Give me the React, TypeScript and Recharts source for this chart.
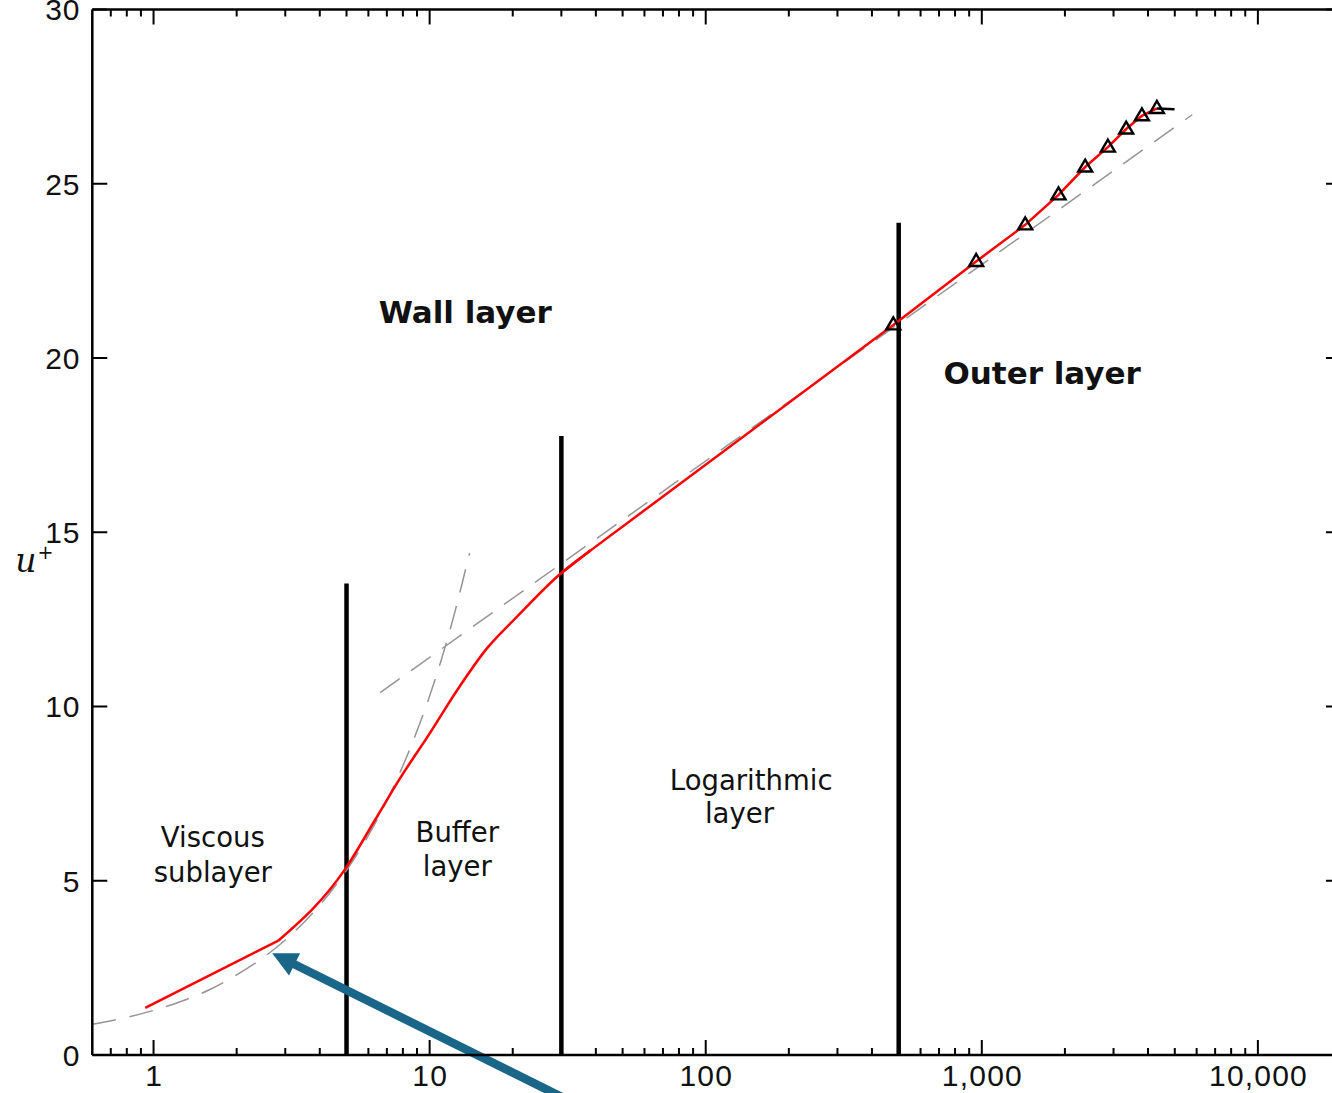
import React from 'react';
import { ComposedChart, Line, XAxis, YAxis, ReferenceLine, ReferenceDot } from 'recharts';

// Mean velocity profile u+ against wall distance y+
const profileX = [0.933, 2.83, 4.95, 6.35, 7.83, 10.05, 12.56, 16.1, 20.7, 29.7, 38.3, 478, 954, 1436, 1896, 2368, 2862, 3334, 3800, 4307];
const profileU = [1.35, 3.28, 5.34, 6.75, 7.95, 9.25, 10.46, 11.66, 12.57, 13.8, 14.48, 20.95, 22.77, 23.82, 24.68, 25.48, 26.05, 26.57, 26.95, 27.16];

// Measured points in the outer region
const markerX = [478, 954, 1436, 1896, 2368, 2862, 3334, 3800, 4307];
const markerU = [20.95, 22.77, 23.82, 24.68, 25.48, 26.05, 26.57, 26.95, 27.16];

// Short trailing segment after the last measurement
const tailX = [4307, 4990];
const tailU = [27.16, 27.14];

// Viscous sublayer reference curve
const viscousX = [0.6, 0.8, 1.0, 1.3, 1.6, 2.0, 2.5, 3.0, 4.0, 5.0, 6.0, 7.0, 8.5, 10, 12, 13.95];
const viscousU = [0.88, 1.08, 1.28, 1.58, 1.88, 2.3, 2.8, 3.3, 4.3, 5.3, 6.3, 7.3, 8.8, 10.3, 12.35, 14.4];

// Log-law reference line
const logLawX = [6.62, 5782];
const logLawU = [10.4, 26.98];

// Region boundaries (y+ position, top of line)
const boundaryX = [5, 30, 500];
const boundaryTop = [13.53, 17.76, 23.88];

// Axis ticks
const xMajor = [1, 10, 100, 1000, 10000];
const xTicks = [
  0.7, 0.8, 0.9, 1, 2, 3, 4, 5, 6, 7, 8, 9, 10, 20, 30, 40, 50, 60, 70, 80, 90, 100,
  200, 300, 400, 500, 600, 700, 800, 900, 1000, 2000, 3000, 4000, 5000, 6000, 7000, 8000, 9000, 10000,
];
const yTicks = [0, 5, 10, 15, 20, 25, 30];

// Region annotations: [text, y+, u+, bold]
const regionLabels: [string, number, number, boolean][] = [
  ['Viscous', 1.639, 6.24, false],
  ['sublayer', 1.639, 5.26, false],
  ['Buffer', 12.59, 6.41, false],
  ['layer', 12.59, 5.43, false],
  ['Logarithmic', 146.1, 7.9, false],
  ['layer', 132.5, 6.95, false],
  ['Wall layer', 13.46, 21.32, true],
  ['Outer layer', 1654, 19.57, true],
];

// Pointer arrow: tail (off the plot) to tip
const arrowX = [41.4, 2.69];
const arrowU = [-1.75, 2.92];

const pts = (xs: number[], us: number[]) => xs.map((x, i) => ({ x, u: us[i] }));

// Profile pieces: straight near the wall, a smooth buffer bend, straight log region onwards
const profileWall = pts(profileX.slice(0, 2), profileU.slice(0, 2));
const profileBuffer = pts(profileX.slice(1, 11), profileU.slice(1, 11));
const profileOuter = pts(profileX.slice(9), profileU.slice(9));

const TICK_FONT = '"Liberation Sans", Arial, sans-serif';
const LABEL_FONT = '"DejaVu Sans", Verdana, sans-serif';
const MAJOR = 15;
const MINOR = 7;

const fmt = (v: number) => v.toLocaleString('en-US');

const BottomTick = (props: any) => {
  const { x, y, payload } = props;
  const v = payload.value;
  const major = xMajor.includes(v);
  return (
    <g>
      <line x1={x} x2={x} y1={y} y2={y - (major ? MAJOR : MINOR)} stroke="#000" strokeWidth={2} />
      {major && (
        <text x={x + 0.6} y={y + 31} textAnchor="middle" fontFamily={TICK_FONT} fontSize={30} letterSpacing={1.2} fill="#111">
          {fmt(v)}
        </text>
      )}
    </g>
  );
};

const TopTick = (props: any) => {
  const { x, y, payload } = props;
  const major = xMajor.includes(payload.value);
  return <line x1={x} x2={x} y1={y} y2={y + (major ? MAJOR : MINOR)} stroke="#000" strokeWidth={2} />;
};

const LeftTick = (props: any) => {
  const { x, y, payload } = props;
  return (
    <g>
      <line x1={x} x2={x + MAJOR} y1={y} y2={y} stroke="#000" strokeWidth={2} />
      <text x={x - 12} y={y} dy="0.36em" textAnchor="end" fontFamily={TICK_FONT} fontSize={30} letterSpacing={0.8} fill="#111">
        {payload.value}
      </text>
    </g>
  );
};

const RightTick = (props: any) => {
  const { x, y } = props;
  return <line x1={x} x2={x - MAJOR} y1={y} y2={y} stroke="#000" strokeWidth={2} />;
};

const Triangle = (props: any) => {
  const { cx, cy, index } = props;
  if (cx == null || cy == null) return <g key={index} />;
  return (
    <polygon
      key={index}
      points={`${cx},${cy - 7.5} ${cx - 7},${cy + 4.5} ${cx + 7},${cy + 4.5}`}
      fill="none"
      stroke="#000"
      strokeWidth={2.4}
    />
  );
};

const Arrow = (props: any) => {
  const { x1, y1, x2, y2 } = props;
  const dx = x2 - x1;
  const dy = y2 - y1;
  const len = Math.sqrt(dx * dx + dy * dy) || 1;
  const ux = dx / len;
  const uy = dy / len;
  const headLen = 25;
  const halfW = 12.5;
  const bx = x2 - ux * headLen;
  const by = y2 - uy * headLen;
  const nx = -uy;
  const ny = ux;
  return (
    <g>
      <line x1={x1} y1={y1} x2={bx + ux * 2} y2={by + uy * 2} stroke="#1a6689" strokeWidth={8.5} />
      <polygon
        points={`${x2},${y2} ${bx + nx * halfW},${by + ny * halfW} ${bx - nx * halfW},${by - ny * halfW}`}
        fill="#1a6689"
      />
    </g>
  );
};

// y-axis title: italic u with a raised plus sign
const AxisLabel = (props: any) => {
  const { cx, cy } = props;
  return (
    <text x={cx - 77} y={cy + 12} fontFamily='"DejaVu Serif", "Liberation Serif", serif' fill="#111">
      <tspan fontStyle="italic" fontSize={33}>u</tspan>
      <tspan dx={1} dy={-13} fontFamily='"DejaVu Sans", sans-serif' fontSize={19}>+</tspan>
    </text>
  );
};

const axisLine = { stroke: '#000', strokeWidth: 2.5 };

export default function App() {
  return (
    <div style={{ position: 'fixed', left: 0, top: 0, width: 1332, height: 1093, overflow: 'hidden', background: '#fff' }}>
      <div style={{ position: 'absolute', left: 0, top: -40 }}>
        <ComposedChart width={1400} height={1180} margin={{ top: 48.5, right: 58, bottom: 84, left: 91.3 }}>
          <XAxis
            xAxisId="b"
            dataKey="x"
            type="number"
            scale="log"
            domain={[0.6, 20000]}
            allowDataOverflow
            ticks={xTicks}
            interval={0}
            height={1}
            tickSize={0}
            tickMargin={0}
            tickLine={false}
            axisLine={axisLine}
            tick={<BottomTick />}
          />
          <XAxis
            xAxisId="t"
            orientation="top"
            dataKey="x"
            type="number"
            scale="log"
            domain={[0.6, 20000]}
            allowDataOverflow
            ticks={xTicks}
            interval={0}
            height={1}
            tickSize={0}
            tickMargin={0}
            tickLine={false}
            axisLine={axisLine}
            tick={<TopTick />}
          />
          <YAxis
            yAxisId="l"
            type="number"
            domain={[0, 30]}
            allowDataOverflow
            ticks={yTicks}
            interval={0}
            width={1}
            tickSize={0}
            tickMargin={0}
            tickLine={false}
            axisLine={axisLine}
            tick={<LeftTick />}
          />
          <YAxis
            yAxisId="r"
            orientation="right"
            type="number"
            domain={[0, 30]}
            allowDataOverflow
            ticks={yTicks}
            interval={0}
            width={1}
            tickSize={0}
            tickMargin={0}
            tickLine={false}
            axisLine={axisLine}
            tick={<RightTick />}
          />

          {boundaryX.map((bx, i) => (
            <ReferenceLine
              key={`b${i}`}
              xAxisId="b"
              yAxisId="l"
              segment={[{ x: bx, y: 0 }, { x: bx, y: boundaryTop[i] }]}
              stroke="#000"
              strokeWidth={4.5}
              ifOverflow="visible"
            />
          ))}

          <Line xAxisId="b" yAxisId="l" data={pts(viscousX, viscousU)} dataKey="u" type="monotone" stroke="#959595" strokeWidth={1.5} strokeDasharray="24 14" dot={false} isAnimationActive={false} />
          <Line xAxisId="b" yAxisId="l" data={pts(logLawX, logLawU)} dataKey="u" type="linear" stroke="#959595" strokeWidth={1.5} strokeDasharray="24 14" dot={false} isAnimationActive={false} />
          <Line xAxisId="b" yAxisId="l" data={profileWall} dataKey="u" type="linear" stroke="#ff0000" strokeWidth={2.5} dot={false} isAnimationActive={false} />
          <Line xAxisId="b" yAxisId="l" data={profileBuffer} dataKey="u" type="monotone" stroke="#ff0000" strokeWidth={2.5} dot={false} isAnimationActive={false} />
          <Line xAxisId="b" yAxisId="l" data={profileOuter} dataKey="u" type="linear" stroke="#ff0000" strokeWidth={2.5} dot={false} isAnimationActive={false} />
          <Line xAxisId="b" yAxisId="l" data={pts(tailX, tailU)} dataKey="u" type="linear" stroke="#000" strokeWidth={2.5} dot={false} isAnimationActive={false} />
          <Line xAxisId="b" yAxisId="l" data={pts(markerX, markerU)} dataKey="u" stroke="none" dot={<Triangle />} activeDot={false} isAnimationActive={false} />

          {regionLabels.map(([text, lx, lu, bold], i) => (
            <ReferenceDot
              key={`t${i}`}
              xAxisId="b"
              yAxisId="l"
              x={lx}
              y={lu}
              r={0}
              ifOverflow="visible"
              shape={(p: any) => (
                <text
                  x={p.cx}
                  y={p.cy}
                  dy="0.36em"
                  textAnchor="middle"
                  fontFamily={LABEL_FONT}
                  fontWeight={bold ? 'bold' : 'normal'}
                  fontSize={bold ? 31 : 27.5}
                  fill="#111"
                >
                  {text}
                </text>
              )}
            />
          ))}

          <ReferenceDot xAxisId="b" yAxisId="l" x={0.6} y={14.2} r={0} ifOverflow="visible" shape={<AxisLabel />} />

          <ReferenceLine
            xAxisId="b"
            yAxisId="l"
            segment={[{ x: arrowX[0], y: arrowU[0] }, { x: arrowX[1], y: arrowU[1] }]}
            ifOverflow="visible"
            shape={<Arrow />}
          />
        </ComposedChart>
      </div>
    </div>
  );
}
